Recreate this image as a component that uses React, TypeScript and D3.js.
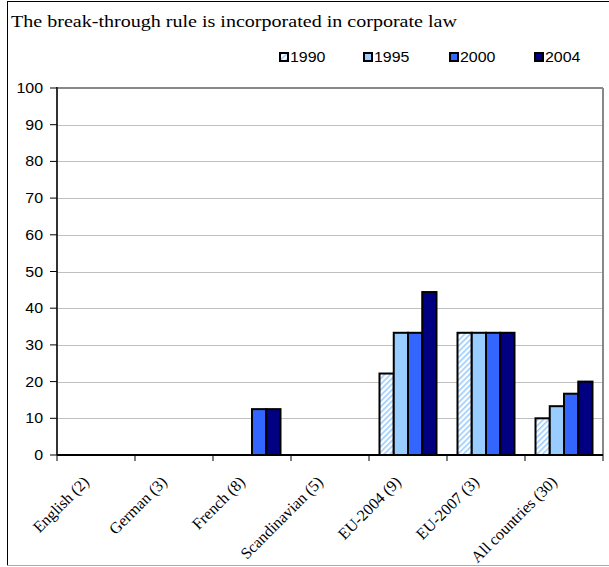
import React from "react";
import * as d3 from "d3";

const title = "The break-through rule is incorporated in corporate law";
const categories = ["English (2)", "German (3)", "French (8)", "Scandinavian (5)", "EU-2004 (9)", "EU-2007 (3)", "All countries (30)"];
const seriesNames = ["1990", "1995", "2000", "2004"];
const v1990 = [0, 0, 0, 0, 22.2, 33.3, 10];
const v1995 = [0, 0, 0, 0, 33.3, 33.3, 13.3];
const v2000 = [0, 0, 12.5, 0, 33.3, 33.3, 16.7];
const v2004 = [0, 0, 12.5, 0, 44.4, 33.3, 20];
const yTicks = [0, 10, 20, 30, 40, 50, 60, 70, 80, 90, 100];

const seriesValues = [v1990, v1995, v2000, v2004];
const fills = ["url(#hatch)", "#99CCFF", "#3366FF", "#000080"];

const W = 609, H = 567;
const left = 57, right = 603, top = 88, bottom = 455;
const SX = 1.14;

export default function App() {
  const x = d3.scaleBand<string>().domain(categories).range([left, right]).padding(0);
  const xs = d3.scaleBand<string>().domain(seriesNames).range([0, x.bandwidth()]).paddingInner(0).paddingOuter(0.737);
  const y = d3.scaleLinear().domain([0, 100]).range([bottom, top]);
  const serif = "'Liberation Serif', 'Times New Roman', serif";
  const sans = "'Liberation Sans', Arial, sans-serif";
  const legendX = [279, 363, 449, 534];
  const st = (px: number, py: number, extra = "") => `translate(${px},${py}) scale(${SX},1) ${extra}`;

  return (
    <svg width={W} height={H} style={{ position: "absolute", left: 0, top: 0, background: "#fff" }}>
      <defs>
        <pattern id="hatch" width="4" height="4" patternUnits="userSpaceOnUse" patternTransform="rotate(45)">
          <rect width="4" height="4" fill="#fff" />
          <rect x="0" y="0" width="1.6" height="4" fill="#99CCFF" />
        </pattern>
      </defs>
      {/* outer frame */}
      <line x1={7.5} x2={7.5} y1={1} y2={566} stroke="#000" strokeWidth={1} />
      <line x1={7} x2={609} y1={1.5} y2={1.5} stroke="#000" strokeWidth={1} />
      <line x1={7} x2={609} y1={565.5} y2={565.5} stroke="#aaa" strokeWidth={1} />

      <text transform={st(11, 27)} fontFamily={serif} fontSize={17.6} fill="#000">{title}</text>

      {/* legend */}
      {seriesNames.map((s, i) => (
        <g key={s}>
          <rect x={legendX[i] + 1} y={53} width={8} height={8} fill={fills[i]} stroke="#000" strokeWidth={2} />
          <text transform={st(legendX[i] + 11, 62)} fontFamily={sans} fontSize={14} fill="#000">{s}</text>
        </g>
      ))}

      {/* gridlines */}
      {yTicks.filter((t) => t > 0 && t < 100).map((t) => (
        <line key={t} x1={left} x2={right} y1={Math.round(y(t)) + 0.5} y2={Math.round(y(t)) + 0.5} stroke="#C0C0C0" strokeWidth={1} />
      ))}
      <line x1={left} x2={right} y1={y(100)} y2={y(100)} stroke="#888" strokeWidth={2} />
      <line x1={right} x2={right} y1={y(100)} y2={bottom} stroke="#888" strokeWidth={2} />

      {/* bars */}
      {categories.map((c, ci) => (
        <g key={c}>
          {seriesNames.map((s, si) => {
            const v = seriesValues[si][ci];
            if (v <= 0) return null;
            const bx = (x(c) as number) + (xs(s) as number);
            return (
              <rect key={s} x={bx} y={y(v)} width={xs.bandwidth()} height={bottom - y(v)} fill={fills[si]} stroke="#000" strokeWidth={2} />
            );
          })}
        </g>
      ))}

      {/* y axis */}
      <line x1={left} x2={left} y1={y(100) - 1} y2={bottom} stroke="#333" strokeWidth={2} />
      {yTicks.map((t) => (
        <g key={t}>
          <line x1={left - 7} x2={left} y1={y(t)} y2={y(t)} stroke="#000" strokeWidth={1} />
          <text transform={st(43, y(t) + 5)} textAnchor="end" fontFamily={sans} fontSize={14} fill="#000">{t}</text>
        </g>
      ))}

      {/* x axis */}
      <line x1={left} x2={right} y1={bottom} y2={bottom} stroke="#000" strokeWidth={2} />
      {categories.map((c) => (
        <line key={c} x1={x(c) as number} x2={x(c) as number} y1={bottom} y2={bottom + 6} stroke="#000" strokeWidth={1} />
      ))}
      <line x1={right} x2={right} y1={bottom} y2={bottom + 6} stroke="#000" strokeWidth={1} />
      {categories.map((c) => {
        const cx = (x(c) as number) + x.bandwidth() / 2 - 6;
        const cy = bottom + 28;
        return (
          <text key={c} textAnchor="end" fontFamily={serif} fontSize={16} fill="#000" transform={`translate(${cx},${cy}) rotate(-45)`}>{c}</text>
        );
      })}
    </svg>
  );
}
